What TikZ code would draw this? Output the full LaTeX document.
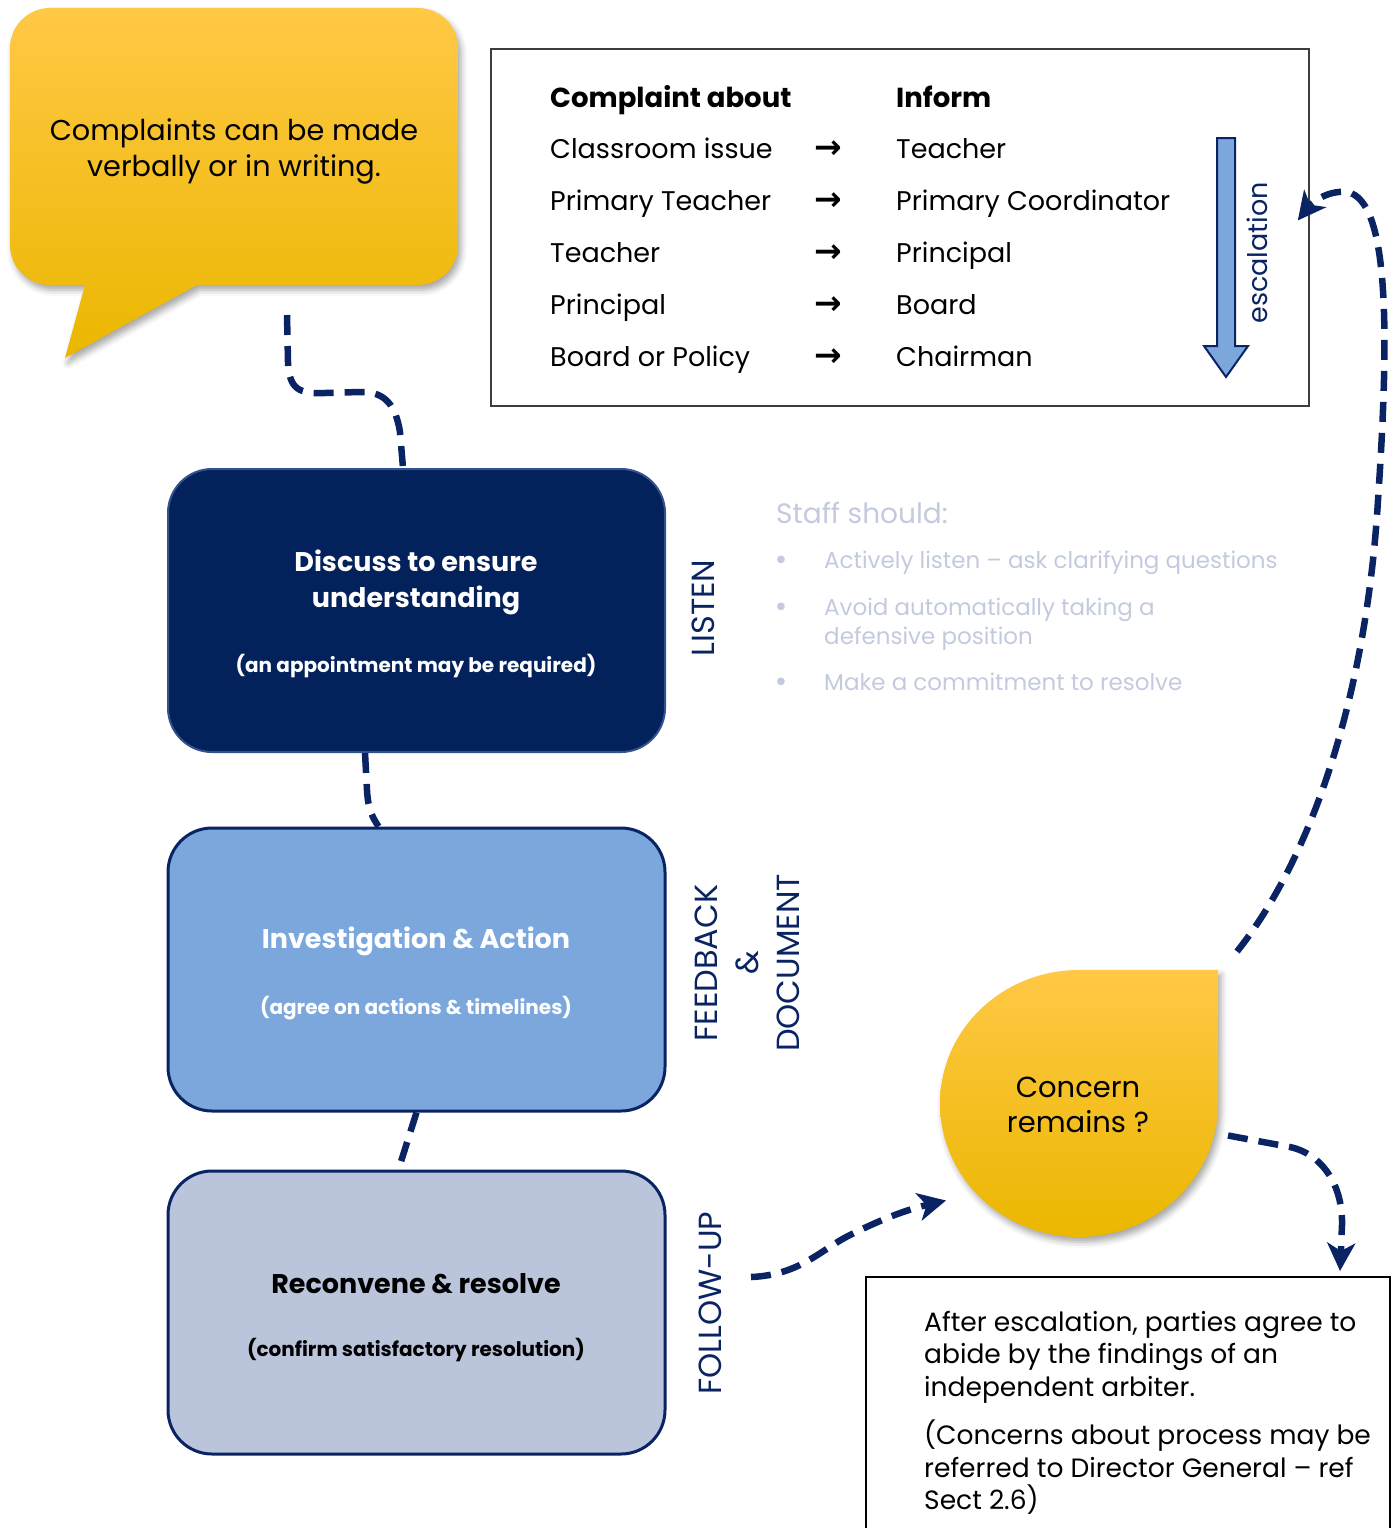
\documentclass[tikz,border=0pt]{standalone}
\usepackage{fontspec}
\setmainfont{Poppins}
\newfontfamily\symfont{DejaVu Sans}
\usetikzlibrary{arrows.meta,calc,shadows.blur}
\definecolor{navy}{HTML}{0A2463}
\definecolor{boxnavy}{HTML}{03215A}
\definecolor{boxedge}{HTML}{34528E}
\definecolor{skyblue}{HTML}{7BA7DD}
\definecolor{paleblue}{HTML}{BAC4DA}
\definecolor{staffgrey}{HTML}{C3CADF}
\definecolor{goldtop}{HTML}{FFC846}
\definecolor{goldmid}{HTML}{FCC400}
\definecolor{goldbot}{HTML}{EBB700}
\definecolor{frame}{HTML}{3C3C3C}
\begin{document}
\begin{tikzpicture}[x=1pt,y=-1pt,
  conn/.style={draw=navy, line width=6.5pt, dash pattern=on 20pt off 11pt},
  tip/.style={-{Stealth[length=28pt,width=28pt,inset=8pt]}},
  gold/.style={top color=goldtop, middle color=goldmid, bottom color=goldbot},
  softshadow/.style={blur shadow={shadow xshift=3pt, shadow yshift=-5pt, shadow blur radius=6pt, shadow opacity=35}},
  stepbox/.style={draw, rounded corners=44pt, minimum width=497pt, minimum height=283pt, inner sep=0pt},
  tabtxt/.style={anchor=base west, inner sep=0pt, font=\fontsize{27}{32}\selectfont},
  tabhead/.style={tabtxt, font=\fontsize{27.5}{32}\selectfont\bfseries},
  tabarrow/.style={anchor=base, inner sep=0pt, font=\symfont\bfseries\fontsize{33}{36}\selectfont},
  boxtitle/.style={align=center, inner sep=0pt, font=\fontsize{27}{36}\selectfont\bfseries},
  boxsub/.style={align=center, inner sep=0pt, font=\fontsize{20}{24}\selectfont\bfseries},
  sidelabel/.style={rotate=90, align=center, inner sep=0pt, text=navy, font=\fontsize{32}{41}\selectfont},
  stafftxt/.style={anchor=base west, inner sep=0pt, text=staffgrey, font=\fontsize{23}{29}\selectfont},
  staffdot/.style={anchor=base, inner sep=0pt, text=staffgrey, font=\symfont\fontsize{26}{29}\selectfont},
  notetxt/.style={anchor=north west, align=left, inner sep=0pt, font=\fontsize{26.5}{32.5}\selectfont}
]
\useasboundingbox (0,0) rectangle (1396,1528);

% speech bubble
\path[gold, softshadow]
  (50,8) -- (418,8) arc[start angle=270, end angle=360, radius=40]
  -- (458,245) arc[start angle=0, end angle=90, radius=40]
  -- (197,285) -- (65,358) -- (85,285) -- (50,285)
  arc[start angle=90, end angle=180, radius=40]
  -- (10,48) arc[start angle=180, end angle=270, radius=40] -- cycle;
\node[align=center, inner sep=0pt, font=\fontsize{28.7}{36}\selectfont] (bubble) at (234,151)
  {Complaints can be made\\verbally or in writing.};
\coordinate (bubbleout) at (287,315);

% escalation table
\node[draw=frame, line width=1.5pt, minimum width=818pt, minimum height=357pt, inner sep=0pt] (table) at (900,227.5) {};
\node[tabhead] (h1) at (550,107) {Complaint about};
\node[tabhead] (h2) at (896,107) {Inform};
\foreach \y/\a/\b [count=\i] in {158/Classroom issue/Teacher,
    210/Primary Teacher/Primary Coordinator,
    262/Teacher/Principal,
    314/Principal/Board,
    366/Board or Policy/Chairman}{
  \node[tabtxt] (from\i) at (550,\y) {\a};
  \node[tabarrow] (arr\i) at (828,\y) {→};
  \node[tabtxt] (to\i) at (896,\y) {\b};
}
\path[fill=skyblue, draw=navy, line width=2pt, line join=miter]
  (1217,138) -- (1235,138) -- (1235,346) -- (1248,346) -- (1226,377)
  -- (1204,346) -- (1217,346) -- cycle;
\node[rotate=90, inner sep=0pt, text=navy, font=\fontsize{27}{32}\selectfont] (esc) at (1257,253) {escalation};

% process steps
\node[stepbox, fill=boxnavy, draw=boxedge, line width=2pt] (box1) at (416.5,610.5) {};
\node[boxtitle, text=white] at (416,582) {Discuss to ensure\\understanding};
\node[boxsub, text=white] at (416,666) {(an appointment may be required)};

\node[stepbox, fill=skyblue, draw=navy, line width=3pt] (box2) at (416.5,969.5) {};
\node[boxtitle, text=white] at (416,941) {Investigation \& Action};
\node[boxsub, text=white] at (416,1008) {(agree on actions \& timelines)};

\node[stepbox, fill=paleblue, draw=navy, line width=3pt] (box3) at (416.5,1312.5) {};
\node[boxtitle, text=black] at (416,1284) {Reconvene \& resolve};
\node[boxsub, text=black] at (416,1350) {(confirm satisfactory resolution)};

% side labels
\node[sidelabel] (listen) at (703,608) {LISTEN};
\node[sidelabel] (feedback) at (747,963) {FEEDBACK\\\&\\DOCUMENT};
\node[sidelabel] (followup) at (710,1303) {FOLLOW-UP};
\coordinate (fuout) at (751,1277);

% staff guidance
\node[anchor=base west, inner sep=0pt, text=staffgrey, font=\fontsize{28}{32}\selectfont] (staff) at (776,523) {Staff should:};
\node[staffdot] at (781,569) {•};
\node[stafftxt] (s1) at (824,568) {Actively listen – ask clarifying questions};
\node[staffdot] at (781,616) {•};
\node[stafftxt] (s2) at (824,615) {Avoid automatically taking a};
\node[stafftxt] (s2b) at (824,644) {defensive position};
\node[staffdot] at (781,691) {•};
\node[stafftxt] (s3) at (824,690) {Make a commitment to resolve};

% decision drop
\coordinate (drop) at (1079,1103.5);
\path[gold, softshadow]
  (1079,970) -- (1218,970) -- (1218,1103.5)
  arc[start angle=0, end angle=270, x radius=139, y radius=133.5] -- cycle;
\node[align=center, inner sep=0pt, font=\fontsize{29}{35}\selectfont] (concern) at (1078,1105) {Concern\\remains ?};

% arbitration note
\draw[line width=1.5pt, black] (866,1540) |- (1390,1277) -- (1390,1540);
\coordinate (note) at (1128,1277);
\node[notetxt] (n1) at (924,1311) {After escalation, parties agree to\\abide by the findings of an\\independent arbiter.};
\node[notetxt] (n2) at (924,1420) {(Concerns about process may be\\referred to Director General – ref\\Sect 2.6)};

% connectors
\draw[conn] (bubbleout) -- (288,362) .. controls (289,390) and (300,394) .. (325,393)
  -- (360,392) .. controls (387,391) and (396,408) .. (400,432)
  -- ($(box1.north west)+(236,0)$);
\draw[conn] ($(box1.south west)+(198,0)$) -- (367,790)
  .. controls (368,810) and (373,818) .. ($(box2.north west)+(212,0)$);
\draw[conn] ($(box2.south west)+(250,0)$) -- ($(box3.north west)+(232,0)$);
\draw[conn, tip] (fuout) .. controls (800,1275) and (820,1250) .. (850,1235)
  .. controls (880,1220) and (905,1210) .. ($(drop)+(-133,97)$);
\draw[conn, tip] ($(drop)+(158,-152)$) .. controls (1310,860) and (1366,700) .. (1378,500)
  .. controls (1388,350) and (1392,200) .. (1347,192)
  .. controls (1325,190) and (1310,205) .. ($(table.east)+(-12,-7)$);
\draw[conn, tip] ($(drop)+(149,32)$) -- (1290,1147)
  .. controls (1322,1154) and (1343,1185) .. (1342,1225) -- ($(note)+(212,-6)$);
\end{tikzpicture}
\end{document}
